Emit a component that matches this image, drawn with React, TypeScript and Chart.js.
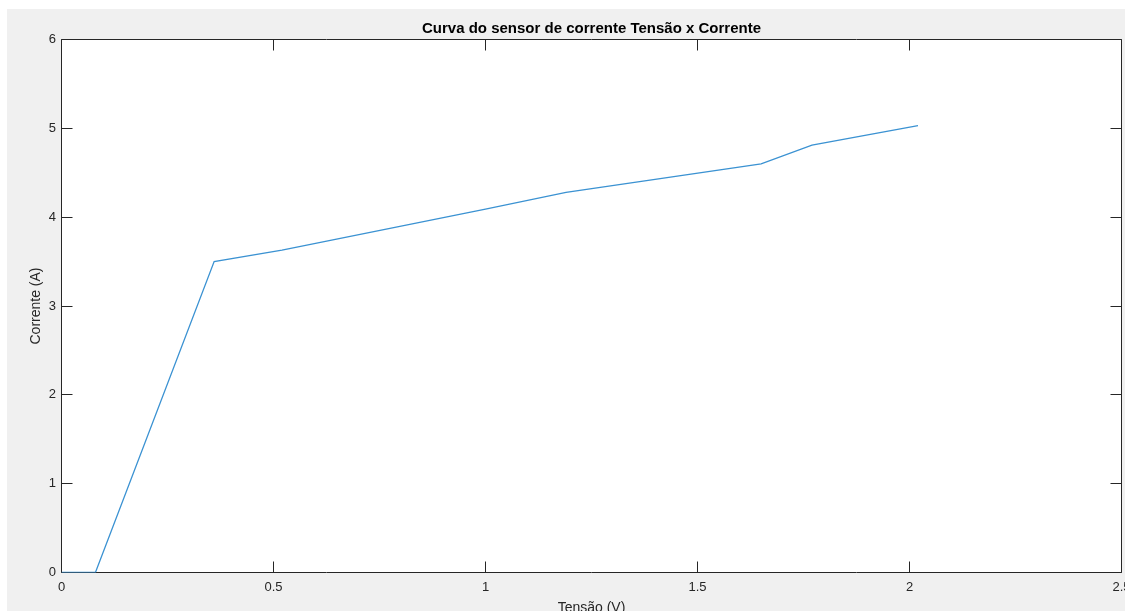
import React, { useEffect, useRef } from 'react';
import { Chart, registerables } from 'chart.js';

Chart.register(...registerables);

// Data
const tensao = [0, 0.08, 0.36, 0.52, 1.0, 1.19, 1.65, 1.77, 2.02];
const corrente = [0, 0, 3.5, 3.63, 4.09, 4.28, 4.6, 4.81, 5.03];
const xTickValues = [0, 0.5, 1, 1.5, 2, 2.5];
const yTickValues = [0, 1, 2, 3, 4, 5, 6];
const chartTitle = 'Curva do sensor de corrente Tensão x Corrente';
const xAxisTitle = 'Tensão (V)';
const yAxisTitle = 'Corrente (A)';

const FONT = "'Liberation Sans', Arial, Helvetica, sans-serif";
const AXIS_COLOR = '#262626';
const FIG_BG = '#f0f0f0';
const LINE_COLOR = '#3b92d2';
const TICK_LEN = 11;

const matlabAxes = {
  id: 'matlabAxes',
  beforeDraw(chart: any) {
    const { ctx, chartArea, width, height } = chart;
    ctx.save();
    ctx.fillStyle = FIG_BG;
    ctx.fillRect(0, 0, width, height);
    ctx.fillStyle = '#ffffff';
    ctx.fillRect(chartArea.left, chartArea.top, chartArea.right - chartArea.left, chartArea.bottom - chartArea.top);
    ctx.restore();
  },
  beforeDatasetsDraw(chart: any) {
    const { ctx, chartArea } = chart;
    const { left, right, top, bottom } = chartArea;
    const xs = chart.scales.x;
    const ys = chart.scales.y;
    ctx.save();
    ctx.strokeStyle = AXIS_COLOR;
    ctx.lineWidth = 1;
    ctx.beginPath();
    ctx.rect(left, top, right - left, bottom - top);
    ctx.stroke();
    ctx.beginPath();
    xs.ticks.forEach((t: any) => {
      const px = Math.round(xs.getPixelForValue(t.value) - 0.5) + 0.5;
      ctx.moveTo(px, bottom);
      ctx.lineTo(px, bottom - TICK_LEN);
      ctx.moveTo(px, top);
      ctx.lineTo(px, top + TICK_LEN);
    });
    ys.ticks.forEach((t: any) => {
      const py = Math.round(ys.getPixelForValue(t.value) - 0.5) + 0.5;
      ctx.moveTo(left, py);
      ctx.lineTo(left + TICK_LEN, py);
      ctx.moveTo(right, py);
      ctx.lineTo(right - TICK_LEN, py);
    });
    ctx.stroke();
    ctx.restore();
  },
};

export default function App() {
  const ref = useRef<HTMLCanvasElement>(null);

  useEffect(() => {
    if (!ref.current) return;
    const chart = new Chart(ref.current, {
      type: 'scatter',
      data: {
        datasets: [
          {
            label: 'Corrente',
            data: tensao.map((x, i) => ({ x, y: corrente[i] })),
            showLine: true,
            borderColor: LINE_COLOR,
            borderWidth: 1.3,
            pointRadius: 0,
            pointHoverRadius: 0,
            tension: 0,
            fill: false,
          },
        ],
      },
      options: {
        responsive: false,
        animation: false,
        devicePixelRatio: 1,
        layout: { padding: { left: 0, right: 3.5, top: 0, bottom: 0 } },
        plugins: {
          legend: { display: false },
          tooltip: { enabled: false },
          title: {
            display: true,
            text: chartTitle,
            fullSize: false,
            color: '#000000',
            font: { family: FONT, size: 15, weight: 'bold', lineHeight: 1.2 },
            padding: { top: 11, bottom: 1.5 },
          },
        },
        scales: {
          x: {
            type: 'linear',
            min: 0,
            max: 2.5,
            afterBuildTicks: (scale: any) => {
              scale.ticks = xTickValues.map((v) => ({ value: v }));
            },
            afterFit: (scale: any) => {
              scale.height = 38.5;
              scale.paddingLeft = 0;
              scale.paddingRight = 0;
            },
            grid: { display: false, drawTicks: false },
            border: { display: false },
            ticks: {
              color: AXIS_COLOR,
              font: { family: FONT, size: 13 },
              padding: 7,
              maxRotation: 0,
              autoSkip: false,
              callback: (v: any) => String(v),
            },
            title: {
              display: true,
              text: xAxisTitle,
              color: AXIS_COLOR,
              font: { family: FONT, size: 14, lineHeight: '6px' },
              padding: 0,
            },
          },
          y: {
            type: 'linear',
            min: 0,
            max: 6,
            afterBuildTicks: (scale: any) => {
              scale.ticks = yTickValues.map((v) => ({ value: v }));
            },
            afterFit: (scale: any) => {
              scale.width = 54.5;
              scale.paddingTop = 0;
              scale.paddingBottom = 0;
            },
            grid: { display: false, drawTicks: false },
            border: { display: false },
            ticks: {
              color: AXIS_COLOR,
              font: { family: FONT, size: 13 },
              padding: 5.5,
              autoSkip: false,
              callback: (v: any) => String(v),
            },
            title: {
              display: true,
              text: yAxisTitle,
              color: AXIS_COLOR,
              font: { family: FONT, size: 14, lineHeight: 1.2 },
              padding: { top: 20.7, bottom: 0 },
            },
          },
        },
      },
      plugins: [matlabAxes],
    });
    return () => chart.destroy();
  }, []);

  return (
    <canvas
      ref={ref}
      width={1118}
      height={602}
      style={{ position: 'fixed', left: 7, top: 9, width: 1118, height: 602, display: 'block' }}
    />
  );
}
